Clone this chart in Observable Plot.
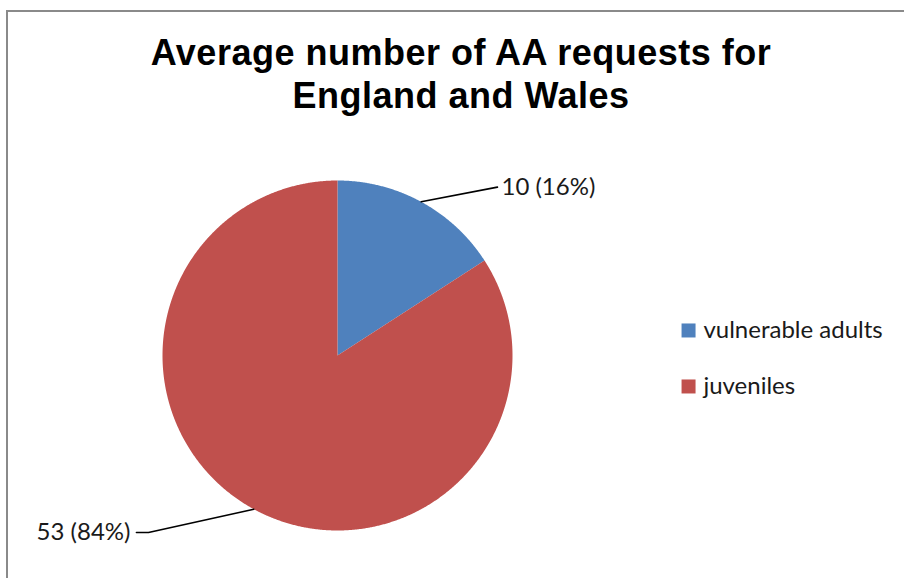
<!DOCTYPE html>
<html><head><meta charset="utf-8">
<script src="https://cdn.jsdelivr.net/npm/d3@7"></script>
<script src="https://cdn.jsdelivr.net/npm/@observablehq/plot@0.6"></script>
<style>
body{margin:0;background:#fff}
#wrap{position:relative;width:904px;height:578px;overflow:hidden;background:#fff}
#frame{position:absolute;left:6px;top:10px;width:1000px;height:1000px;border-left:2px solid #8a8a8a;border-top:2px solid #8a8a8a;pointer-events:none}
#title{position:absolute;left:6px;width:910px;top:31px;text-align:center;font:bold 36px "Liberation Sans",Arial,sans-serif;line-height:43px;letter-spacing:0.5px;color:#000}
#chart{position:absolute;left:0;top:0}
</style>
</head><body>
<div id="wrap"><div id="chart"></div><div id="frame"></div>
<div id="title">Average number of AA requests for<br>England and Wales</div></div>
<script>
const categories = ["vulnerable adults", "juveniles"];
const values = [10, 53];
const colors = ["#4F81BD", "#C0504D"];

const total = d3.sum(values);
const arcs = d3.pie().sort(null)(values);

// slice outlines in unit-circle coordinates (clockwise from 12 o'clock)
const slicePts = [];
arcs.forEach((a, i) => {
  slicePts.push({cat: categories[i], x: 0, y: 0});
  const n = Math.ceil((a.endAngle - a.startAngle) / 0.005);
  for (let k = 0; k <= n; k++) {
    const t = a.startAngle + (a.endAngle - a.startAngle) * k / n;
    slicePts.push({cat: categories[i], x: Math.sin(t), y: Math.cos(t)});
  }
});

// label leader geometry (layout)
const labelLayout = [
  {elbow: [0.914, 0.962], end: [0.914, 0.962], text: [0.937, 0.962], anchor: "start"},
  {elbow: [-1.08, -1.011], end: [-1.149, -1.011], text: [-1.183, -1.011], anchor: "end"}
];
const leaders = [];
const labels = [];
arcs.forEach((a, i) => {
  const m = (a.startAngle + a.endAngle) / 2;
  const L = labelLayout[i];
  leaders.push({id: i, x: Math.sin(m), y: Math.cos(m)});
  leaders.push({id: i, x: L.elbow[0], y: L.elbow[1]});
  leaders.push({id: i, x: L.end[0], y: L.end[1]});
  labels.push({x: L.text[0], y: L.text[1], anchor: L.anchor,
    label: `${values[i]} (${Math.round(values[i] / total * 100)}%)`});
});

const legend = categories.map((c, i) => ({cat: c, x: 2.006, tx: 2.091, y: [0.143, -0.177][i]}));

const font = "Lato, 'Open Sans', sans-serif";
const chart = Plot.plot({
  width: 904, height: 578,
  margin: 0,
  x: {domain: [-1, 1], range: [162, 512], axis: null},
  y: {domain: [-1, 1], range: [530, 180], axis: null},
  color: {domain: categories, range: colors},
  style: {background: "transparent", overflow: "visible"},
  marks: [
    ...categories.map((c, i) => Plot.line(slicePts.filter(d => d.cat === c),
      {x: "x", y: "y", fill: colors[i], stroke: "none", curve: "linear-closed"})),
    Plot.line(leaders, {x: "x", y: "y", z: "id", stroke: "#000", strokeWidth: 1.6}),
    Plot.text(labels.filter(d => d.anchor === "start"), {x: "x", y: "y", text: "label", textAnchor: "start",
      fontSize: 24, fontFamily: font, fill: "#1a1a1a"}),
    Plot.text(labels.filter(d => d.anchor === "end"), {x: "x", y: "y", text: "label", textAnchor: "end",
      fontSize: 24, fontFamily: font, fill: "#1a1a1a"}),
    Plot.dot(legend, {x: "x", y: "y", symbol: "square", r: 7.9, fill: "cat", stroke: "none"}),
    Plot.text(legend, {x: "tx", y: "y", text: "cat", textAnchor: "start",
      fontSize: 24, fontFamily: font, fill: "#1a1a1a"})
  ]
});
document.getElementById("chart").appendChild(chart);
</script>
</body></html>
